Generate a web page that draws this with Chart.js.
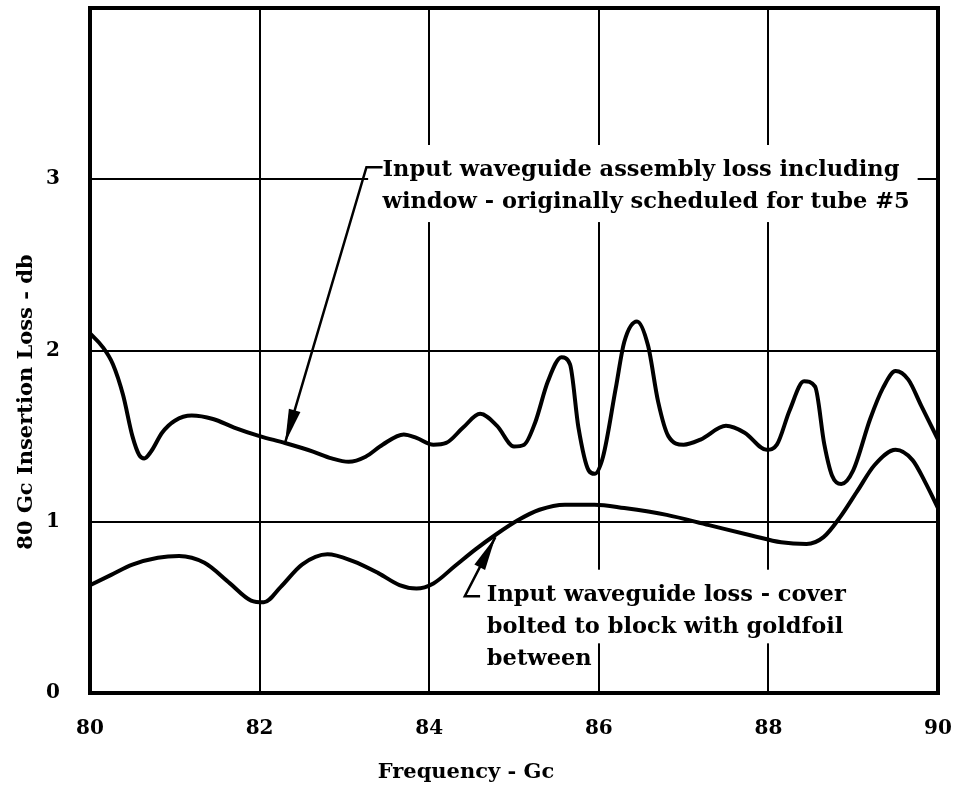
<!DOCTYPE html>
<html>
<head>
<meta charset="utf-8">
<script src="https://cdn.jsdelivr.net/npm/chart.js@4.4.1/dist/chart.umd.min.js"></script>
<style>
  html, body { margin: 0; padding: 0; background: #fff; }
  #wrap { width: 962px; height: 790px; }
</style>
</head>
<body>
<div id="wrap"><canvas id="lossChart" width="962" height="790"></canvas></div>
<script>
// upper curve - input waveguide assembly loss including window
const upperFreq = [80.0, 80.15, 80.27, 80.39, 80.5, 80.58, 80.64, 80.72, 80.85, 81.0, 81.2, 81.45, 81.7, 82.0, 82.3, 82.63, 82.85, 83.05, 83.25, 83.45, 83.7, 83.85, 84.05, 84.2, 84.4, 84.6, 84.8, 85.0, 85.12, 85.25, 85.4, 85.56, 85.66, 85.76, 85.88, 85.95, 86.05, 86.2, 86.3, 86.45, 86.58, 86.7, 86.82, 87.0, 87.2, 87.5, 87.72, 87.98, 88.1, 88.25, 88.42, 88.55, 88.66, 88.75, 88.86, 89.0, 89.2, 89.35, 89.5, 89.65, 89.8, 90.0]
const upperLoss = [2.10, 2.02, 1.92, 1.74, 1.50, 1.39, 1.37, 1.41, 1.52, 1.59, 1.62, 1.60, 1.55, 1.50, 1.46, 1.41, 1.37, 1.35, 1.38, 1.45, 1.51, 1.49, 1.45, 1.46, 1.55, 1.63, 1.56, 1.44, 1.45, 1.58, 1.82, 1.96, 1.92, 1.55, 1.30, 1.28, 1.38, 1.78, 2.05, 2.17, 2.03, 1.70, 1.50, 1.45, 1.48, 1.56, 1.52, 1.42, 1.45, 1.65, 1.82, 1.79, 1.45, 1.27, 1.22, 1.30, 1.60, 1.78, 1.88, 1.83, 1.68, 1.48]

// lower curve - input waveguide loss, cover bolted with gold foil
const lowerFreq = [80.0, 80.25, 80.5, 80.8, 81.05, 81.35, 81.65, 81.9, 82.05, 82.25, 82.5, 82.8, 83.1, 83.4, 83.65, 83.85, 84.05, 84.3, 84.55, 84.8, 85.05, 85.3, 85.6, 85.95, 86.3, 86.8, 87.3, 87.8, 88.15, 88.45, 88.65, 88.85, 89.05, 89.25, 89.5, 89.7, 89.85, 90.0]
const lowerLoss = [0.63, 0.69, 0.75, 0.79, 0.80, 0.76, 0.64, 0.54, 0.53, 0.62, 0.75, 0.81, 0.77, 0.70, 0.63, 0.61, 0.64, 0.74, 0.84, 0.93, 1.01, 1.07, 1.10, 1.10, 1.08, 1.04, 0.98, 0.92, 0.88, 0.87, 0.91, 1.03, 1.18, 1.33, 1.42, 1.36, 1.23, 1.08]

const xTicks = [80, 82, 84, 86, 88, 90]
const yTicks = ["0", "1", "2", "3"]

const xTitle = "Frequency - Gc"
const yTitle = "80 Gc Insertion Loss - db"
const upperNote = ["Input waveguide assembly loss including", "window - originally scheduled for tube #5"]
const lowerNote = ["Input waveguide loss - cover", "bolted to block with goldfoil", "between"]

const FONT = "'DejaVu Serif', serif"

const toPoints = (xs, ys) => xs.map((x, i) => ({ x: x, y: ys[i] }))

// white patches behind the notes, they break the grid like on the original
const notes = [
  { lines: upperNote, x: 83.45, y: 3.02, box: [83.28, 3.2, 89.76, 2.75],
    leader: [[83.45, 3.07], [83.26, 3.07], [82.3, 1.46]] },
  { lines: lowerNote, x: 84.68, y: 0.54, box: [84.39, 0.72, 89.08, 0.29],
    leader: [[84.6, 0.565], [84.42, 0.565], [84.78, 0.91]] },
]

function arrowHead(ctx, x0, y0, x1, y1) {
  const ang = Math.atan2(y1 - y0, x1 - x0)
  const len = 34, half = 6
  ctx.beginPath()
  ctx.moveTo(x1, y1)
  ctx.lineTo(x1 - len * Math.cos(ang) + half * Math.sin(ang), y1 - len * Math.sin(ang) - half * Math.cos(ang))
  ctx.lineTo(x1 - len * Math.cos(ang) - half * Math.sin(ang), y1 - len * Math.sin(ang) + half * Math.cos(ang))
  ctx.closePath()
  ctx.fill()
}

const notesPlugin = {
  id: "notes",
  beforeDatasetsDraw(chart) {
    const { ctx, scales: { x, y } } = chart
    ctx.save()
    ctx.fillStyle = "#fff"
    notes.forEach(n => {
      const l = x.getPixelForValue(n.box[0]), t = y.getPixelForValue(n.box[1])
      const r = x.getPixelForValue(n.box[2]), b = y.getPixelForValue(n.box[3])
      ctx.fillRect(l, t, r - l, b - t)
    })
    ctx.restore()
  },
  afterDatasetsDraw(chart) {
    const { ctx, chartArea: a, scales: { x, y } } = chart
    ctx.save()
    ctx.fillStyle = "#000"
    ctx.strokeStyle = "#000"
    ctx.font = "bold 22.5px " + FONT
    ctx.textBaseline = "alphabetic"
    notes.forEach(n => {
      const tx = x.getPixelForValue(n.x), ty = y.getPixelForValue(n.y)
      n.lines.forEach((line, i) => ctx.fillText(line, tx, ty + i * 32))
      const pts = n.leader.map(p => [x.getPixelForValue(p[0]), y.getPixelForValue(p[1])])
      ctx.lineWidth = 2.5
      ctx.beginPath()
      ctx.moveTo(pts[0][0], pts[0][1])
      for (let i = 1; i < pts.length; i++) ctx.lineTo(pts[i][0], pts[i][1])
      ctx.stroke()
      const p0 = pts[pts.length - 2], p1 = pts[pts.length - 1]
      arrowHead(ctx, p0[0], p0[1], p1[0], p1[1])
    })
    // heavy frame round the plot
    ctx.lineWidth = 4
    ctx.strokeRect(a.left, a.top, a.right - a.left, a.bottom - a.top)

    // axis titles, placed off-centre like the original
    ctx.font = "bold 21px " + FONT
    ctx.textAlign = "center"
    ctx.textBaseline = "middle"
    ctx.fillText(xTitle, 466, 773)
    ctx.translate(27, 402)
    ctx.rotate(-Math.PI / 2)
    ctx.fillText(yTitle, 0, 0)
    ctx.restore()
  },
}

const curveStyle = {
  showLine: true,
  borderColor: "#000",
  borderWidth: 4,
  pointRadius: 0,
  fill: false,
  cubicInterpolationMode: "monotone",
}

const noPad = s => { s.paddingTop = 0; s.paddingBottom = 0; s.paddingLeft = 0; s.paddingRight = 0 }

new Chart(document.getElementById("lossChart"), {
  type: "scatter",
  data: {
    datasets: [
      { label: "assembly", data: toPoints(upperFreq, upperLoss), ...curveStyle },
      { label: "cover", data: toPoints(lowerFreq, lowerLoss), ...curveStyle },
    ],
  },
  options: {
    responsive: false,
    animation: false,
    layout: { padding: { top: 8, right: 24, left: 0, bottom: 0 } },
    plugins: { legend: { display: false }, tooltip: { enabled: false } },
    scales: {
      x: {
        type: "linear",
        min: 80,
        max: 90,
        afterBuildTicks: s => { s.ticks = xTicks.map(v => ({ value: v })) },
        afterFit: s => { s.height = 97; noPad(s) },
        ticks: { color: "#000", padding: 24, font: { family: FONT, size: 20, weight: "bold" } },
        grid: { color: "#000", lineWidth: 2, drawTicks: false },
        border: { display: false },
      },
      y: {
        min: 0,
        max: 4,
        afterBuildTicks: s => { s.ticks = [0, 1, 2, 3, 4].map(v => ({ value: v })) },
        afterFit: s => { s.width = 90; noPad(s) },
        ticks: {
          color: "#000",
          padding: 30,
          font: { family: FONT, size: 20, weight: "bold" },
          callback: v => yTicks[v] || "",
        },
        grid: { color: "#000", lineWidth: 2, drawTicks: false },
        border: { display: false },
      },
    },
  },
  plugins: [notesPlugin],
})
</script>
</body>
</html>
